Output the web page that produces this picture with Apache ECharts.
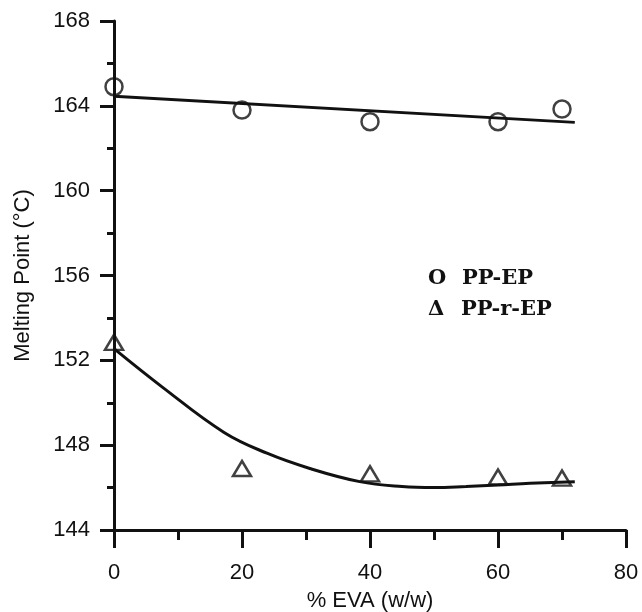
<!DOCTYPE html>
<html>
<head>
<meta charset="utf-8">
<script src="https://cdn.jsdelivr.net/npm/echarts@6/dist/echarts.min.js"></script>
<style>html,body{margin:0;padding:0;background:#fff;}#c{width:642px;height:612px;}</style>
</head>
<body>
<div id="c"></div>
<script>
// Data
var evaContent = [0, 20, 40, 60, 70];
var ppEP = [164.9, 163.8, 163.25, 163.25, 163.85];
var ppREP = [152.85, 146.9, 146.65, 146.5, 146.45];
var ppEPFitX = [0, 72];
var ppEPFitY = [164.45, 163.22];
var ppREPFitX = [0, 7.5, 17.2, 23.9, 30.6, 38.4, 45, 50, 55, 60, 65, 72];
var ppREPFitY = [152.55, 150.75, 148.6, 147.62, 146.9, 146.28, 146.05, 146.0, 146.05, 146.12, 146.2, 146.28];
var xTicks = [0, 20, 40, 60, 80];
var yTicks = [144, 148, 152, 156, 160, 164, 168];

function pairs(xs, ys) { return xs.map(function (x, i) { return [x, ys[i]]; }); }

var chart = echarts.init(document.getElementById('c'), null, { renderer: 'canvas' });
var font = 'Liberation Sans, Arial, sans-serif';
var serif = 'DejaVu Serif, serif';
chart.setOption({
  animation: false,
  backgroundColor: '#fff',
  grid: { left: 114, right: 16, top: 21, bottom: 82, containLabel: false, outerBoundsMode: 'none' },
  xAxis: {
    type: 'value', min: xTicks[0], max: xTicks[xTicks.length - 1], interval: 20,
    name: '% EVA (w/w)', nameLocation: 'middle', nameGap: 60,
    nameTextStyle: { fontFamily: font, fontSize: 22, color: '#111' },
    axisLine: { show: true, lineStyle: { color: '#111', width: 3 } },
    axisTick: { show: true, inside: false, length: 18, lineStyle: { color: '#111', width: 3 } },
    minorTick: { show: true, splitNumber: 2, length: 10, lineStyle: { color: '#111', width: 3 } },
    axisLabel: { fontFamily: font, fontSize: 22, color: '#111', margin: 32 },
    splitLine: { show: false }, minorSplitLine: { show: false }
  },
  yAxis: {
    type: 'value', min: yTicks[0], max: yTicks[yTicks.length - 1], interval: 4,
    name: 'Melting Point (°C)', nameLocation: 'middle', nameGap: 80,
    nameTextStyle: { fontFamily: font, fontSize: 22, color: '#111' },
    axisLine: { show: true, lineStyle: { color: '#111', width: 3 } },
    axisTick: { show: true, inside: false, length: 14, lineStyle: { color: '#111', width: 3 } },
    minorTick: { show: true, splitNumber: 2, length: 7, lineStyle: { color: '#111', width: 3 } },
    axisLabel: { fontFamily: font, fontSize: 22, color: '#111', margin: 24 },
    splitLine: { show: false }, minorSplitLine: { show: false }
  },
  series: [
    {
      name: 'PP-EP fit', type: 'line', data: pairs(ppEPFitX, ppEPFitY), showSymbol: false,
      lineStyle: { color: '#111', width: 3 }, z: 2
    },
    {
      name: 'PP-r-EP fit', type: 'line', data: pairs(ppREPFitX, ppREPFitY), showSymbol: false, smooth: 0.4,
      lineStyle: { color: '#111', width: 3 }, z: 2
    },
    {
      name: 'PP-EP', type: 'scatter', data: pairs(evaContent, ppEP), symbol: 'circle', symbolSize: 17,
      itemStyle: { color: 'rgba(255,255,255,0)', borderColor: '#111', borderWidth: 2.5 }, z: 3
    },
    {
      name: 'PP-r-EP', type: 'scatter', data: pairs(evaContent, ppREP), symbol: 'triangle', symbolSize: [18, 15],
      itemStyle: { color: 'rgba(255,255,255,0)', borderColor: '#111', borderWidth: 2.5 }, z: 3
    }
  ],
  graphic: [
    { type: 'text', left: 428, top: 268, style: { text: 'O', fontFamily: serif, fontWeight: 'bold', fontSize: 21, fill: '#111' } },
    { type: 'text', left: 462, top: 268, style: { text: 'PP-EP', fontFamily: serif, fontWeight: 'bold', fontSize: 21, fill: '#111' } },
    { type: 'text', left: 428, top: 299, style: { text: 'Δ', fontFamily: serif, fontWeight: 'bold', fontSize: 21, fill: '#111' } },
    { type: 'text', left: 461, top: 299, style: { text: 'PP-r-EP', fontFamily: serif, fontWeight: 'bold', fontSize: 21, fill: '#111' } }
  ]
});
</script>
</body>
</html>
